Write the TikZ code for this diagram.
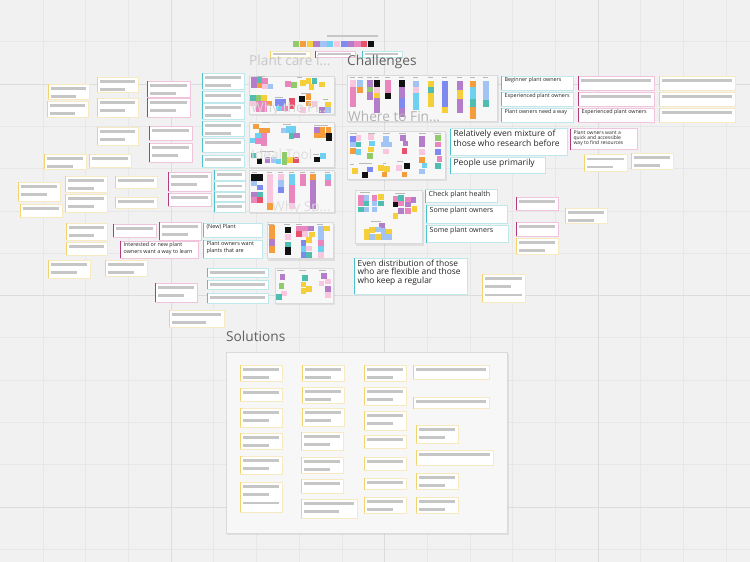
\documentclass[tikz,border=0pt]{standalone}
\usepackage{fontspec}
\setmainfont{Open Sans}
% board colours
\definecolor{bg}{HTML}{F1F1F1}
\definecolor{gridminor}{HTML}{E7E7E7}
\definecolor{gridmajor}{HTML}{DCDCDC}
\definecolor{frameF}{HTML}{F7F7F7}
\definecolor{frameD}{HTML}{DADADA}
\definecolor{barg}{HTML}{C6C6C6}
\definecolor{txt}{HTML}{252525}
\definecolor{tlA}{HTML}{4CC3CC}\definecolor{tlL}{HTML}{BFE8EC}
\definecolor{mgA}{HTML}{B23A7E}\definecolor{mgL}{HTML}{F0C4DA}
\definecolor{ylA}{HTML}{F2D36E}\definecolor{ylL}{HTML}{F7EAC2}
% sticky colours
\definecolor{pk}{HTML}{EA86BE}\definecolor{lpk}{HTML}{F8C6DF}
\definecolor{pu}{HTML}{B47DCA}\definecolor{lb}{HTML}{A2C4F4}
\definecolor{cy}{HTML}{6FD1F1}\definecolor{te}{HTML}{4FBDAF}
\definecolor{ye}{HTML}{F4CF3A}\definecolor{or}{HTML}{F59C3C}
\definecolor{bl}{HTML}{7E8AF0}\definecolor{gr}{HTML}{8FCB6B}
\definecolor{rd}{HTML}{E9506C}\definecolor{bk}{HTML}{111111}
\newcount\crdno
% sticky note with coloured edge and grey placeholder lines
\newcommand{\crd}[6]{%
  \global\advance\crdno by 1
  \node[cardbox, draw=#5L, minimum width=#3pt, minimum height=#4pt] (card\the\crdno) at (#1,#2) {};
  \fill[#5A] (#1,#2) rectangle (#1+1.1,#2+#4);
  \ifnum#6>0 \fill[barg] (#1+3.3,#2+3) rectangle (#1+#3-3.5,#2+5.6);\fi
  \ifnum#6>1 \fill[barg] (#1+3.3,#2+11.3) rectangle (#1+0.68*#3,#2+13.9);\fi
  \ifnum#6>2 \fill[barg] (#1+3.3,#2+19.6) rectangle (#1+#3-3.5,#2+22.2);\fi
}
% sticky note carrying text: x y w h colour size leading text
\newcommand{\tcrd}[8]{%
  \crd{#1}{#2}{#3}{#4}{#5}{0}
  \node[cardtext, font=\fontsize{#6}{#7}\selectfont] (text\the\crdno) at (#1+3.4,#2+1.6) {#8};
}
% frame with a soft drop shadow
\newcommand{\frm}[4]{%
  \fill[black, opacity=0.07] (#1+0.8,#2+1.5) rectangle (#3+1.6,#4+2.2);
  \fill[frameF, draw=frameD, line width=0.4pt] (#1,#2) rectangle (#3,#4);
}
\newcommand{\stk}[3]{\fill[#3] (#1,#2) rectangle (#1+5.6,#2+5.6);}
\newcommand{\stkr}[5]{\fill[#5] (#1,#2) rectangle (#3,#4);}
\newcommand{\col}[4]{\fill[#4] (#1,#2) rectangle (#1+6,#3);}
\newcommand{\hdr}[3]{\fill[gray!55] (#1,#2) rectangle (#1+#3,#2+0.9);}
\begin{document}
\begin{tikzpicture}[x=1pt,y=-1pt,
  cardbox/.style={draw, fill=white, line width=0.5pt, inner sep=0pt, outer sep=0pt, anchor=north west},
  cardtext/.style={anchor=north west, inner sep=0pt, align=left, text=txt},
  title/.style={anchor=base west, inner sep=0pt, font=\fontsize{13.7}{15}\selectfont}]
\useasboundingbox (0,0) rectangle (750,562);
\fill[bg] (0,0) rectangle (750,562);
% grid
\foreach \i in {-8,...,8} {\draw[gridminor, line width=0.5pt] (384.5+\i*42.7,0) -- (384.5+\i*42.7,562);}
\foreach \i in {-4,...,9} {\draw[gridminor, line width=0.5pt] (0,168.5+\i*42.3) -- (750,168.5+\i*42.3);}
\foreach \x in {171,384.5,598} {\draw[gridmajor, line width=0.6pt] (\x,0) -- (\x,562);}
\foreach \y in {83.9,295.4,506.9} {\draw[gridmajor, line width=0.6pt] (0,\y) -- (750,\y);}

% ---------- header: palette and key ----------
\fill[barg] (327,35.3) rectangle (378,37.2);
\foreach \c [count=\i from 0] in {gr,or,ye,pu,lb,cy,lpk,bl,pu,pk,rd,bk}
  {\fill[\c] (293+\i*6.8,40.5) rectangle (293+\i*6.8+6.3,47.2);}
\crd{270}{51}{40}{6.5}{yl}{0}\fill[barg] (273,52.8) rectangle (306,55.2);
\crd{315}{51}{40}{6.5}{mg}{0}\fill[barg] (318,52.8) rectangle (351,55.2);
\crd{362}{51}{40}{6.5}{tl}{0}\fill[barg] (365,52.8) rectangle (398,55.2);

% ---------- left frames ----------
\frm{249}{76}{334}{114}
\stk{251}{77}{pu}\stk{256.6}{77}{te}\stk{262.2}{78}{pk}
\stk{251}{82.6}{pu}\stk{256.6}{82.6}{or}\stk{262.2}{83.6}{lpk}\stk{267.8}{83.6}{lb}
\stk{285}{81}{pk}\stk{291.3}{82}{gr}
\stk{300}{80}{ye}\stk{305.6}{78}{ye}\stk{311.5}{78}{te}\stk{308.5}{84}{ye}\stk{319}{81.5}{ye}
\stk{250}{95}{te}\stk{255.6}{95}{gr}\stk{261.2}{95}{ye}\stk{266.8}{100.6}{or}
\stk{250}{100.6}{lpk}\stkr{255.6}{100.6}{266.6}{112.4}{pk}
\stkr{275}{99}{286}{105.5}{bl}\stk{289}{98}{rd}\stk{289}{103.8}{rd}\stk{282}{105.6}{pk}\stk{276}{105.6}{cy}
\stk{299}{96}{bk}\stk{305.6}{94}{or}\stk{305.6}{100.6}{or}\stk{311.5}{101}{lpk}
\stk{325}{101.5}{ye}\stk{319.4}{107}{pu}\stk{325.2}{107.2}{lb}\stk{300}{107}{lpk}
\hdr{257}{75.5}{8}\hdr{297}{76.5}{5}\hdr{275}{96.5}{8}\hdr{301}{93}{10}\hdr{323}{99.3}{5}

\frm{249}{122}{334}{167}
\stk{253}{123.5}{or}\stk{258.6}{127.6}{or}\stk{264.2}{127.6}{or}\stkr{260.6}{133.2}{266.6}{145.5}{pk}
\stk{255}{132.5}{cy}\stk{250}{137.5}{cy}\stk{255}{138.4}{pk}
\stk{281}{127.5}{lb}\stkr{286}{126}{296}{133}{cy}\stk{288.5}{133}{te}\stk{294}{132.5}{pu}
\stk{314}{127}{pu}\stk{319.8}{127}{or}\stk{325.6}{127}{or}\stkr{314}{132.8}{326}{138.4}{or}\stkr{326}{132.8}{332}{141}{bk}
\stk{251}{152.5}{te}\stk{256.6}{158.2}{bk}\stk{264.8}{157.4}{pu}\stk{270.6}{157.4}{lb}
\stkr{281.6}{151.6}{287.2}{165}{gr}\stk{287.2}{157.4}{ye}\stk{293}{157}{rd}\stk{275.8}{158.6}{cy}
\stk{314}{156.6}{bk}\stk{320}{153}{cy}
\hdr{262}{121.6}{8}\hdr{283}{124}{8}\hdr{314}{124.8}{14}\hdr{260}{150.5}{14}\hdr{313}{154}{6}

\frm{249}{170}{334}{212}
\stkr{251}{173.6}{263}{180.8}{bk}\stk{251}{180.8}{lb}\stk{257}{184.6}{bl}\stk{251}{191.6}{pu}\stk{257}{191.6}{te}\stk{251}{197.4}{pk}\stk{257}{197.4}{rd}
\col{267}{173.6}{203}{lpk}\col{267}{203}{210}{or}
\col{277.5}{173.6}{180}{lpk}\col{277.5}{180}{186.6}{lb}\col{277.5}{186.6}{193}{bl}
\col{288.5}{173.6}{185}{cy}\col{288.5}{185}{203.3}{pk}\col{288.5}{203.3}{209.4}{lpk}
\col{299.5}{173.6}{186}{pk}
\col{310}{173.6}{180}{or}\col{310}{180}{209.4}{pu}
\col{325}{173.6}{180}{cy}\col{325}{180}{186}{pk}
\foreach \x in {252,267,278,289,300,310,325} {\hdr{\x}{171.8}{5}}

\frm{267}{222.5}{333}{258.5}
\col{268.5}{225}{232}{or}\col{268.5}{232}{239}{or}\col{268.5}{239}{246}{pu}\col{268.5}{246}{253}{or}
\col{284.5}{227}{233}{bk}\col{284.5}{234}{240}{lpk}\col{284.5}{241.6}{246.6}{te}\col{284.5}{247.4}{255}{bk}
\stk{296}{225.6}{pk}\stk{302}{225.6}{pk}\stk{308}{225.6}{pu}
\stk{296}{231.4}{rd}\stk{302}{231.4}{lpk}\stk{309}{231.8}{ye}\stk{306}{237}{ye}
\stk{300.5}{240}{bl}\stk{300.5}{246}{cy}\stk{300.5}{252}{bl}\stk{306.2}{252}{te}\stk{306.2}{245.6}{lpk}
\col{317.5}{225.6}{240}{lb}\col{317.5}{240}{246}{pk}\col{317.5}{246}{252}{cy}\col{317.5}{252}{258}{lpk}
\stk{324.4}{225.6}{ye}
\foreach \x in {268,284,296,317} {\hdr{\x}{223.8}{6}}

\frm{275}{268.5}{333}{303}
\stk{279.5}{274}{pu}\stk{278.5}{283}{gr}\stk{281}{290.5}{lpk}\stk{276}{294}{te}
\stk{302}{275}{te}\stk{300.5}{281.5}{ye}\stk{300.5}{288}{ye}\stk{306}{286}{ye}
\stk{321}{273}{pu}\stk{318.5}{280.5}{lpk}\stk{325}{278.5}{lpk}\stk{325}{286}{pu}\stk{325}{292}{lpk}
\hdr{277}{270}{7}\hdr{299}{270}{7}\hdr{319}{270}{7}

% ---------- challenge frames ----------
\frm{347}{75}{497}{121}
\col{350}{80}{86.5}{lpk}\col{350}{86.5}{107}{pk}
\col{356.5}{80}{86.5}{lb}\col{356.5}{86.5}{93}{or}
\col{367}{80}{86.5}{pu}\col{367}{86.5}{92}{gr}\col{367}{92}{100}{pu}
\col{373.5}{80}{86.5}{bk}\col{373.5}{86.5}{92.5}{lpk}\col{373.5}{92.5}{98}{ye}\col{373.5}{98}{113}{pu}
\col{384.5}{80}{93}{pk}\col{384.5}{93}{99}{bk}
\col{398.5}{80}{87}{bk}\col{398.5}{87}{98}{pu}\col{398.5}{98}{108}{bl}\col{398.5}{108}{117}{pu}
\col{413}{81}{86.5}{lb}\col{413}{86.5}{93}{lpk}\col{413}{93}{110}{cy}
\col{428}{81}{86.5}{ye}\col{428}{86.5}{93}{te}\col{428}{93}{107}{ye}
\col{442}{81}{107}{bl}\col{442}{107}{113}{ye}
\col{456.5}{81}{90}{pu}\col{456.5}{90}{99}{ye}\col{456.5}{99}{113}{pu}
\col{470}{81}{86.5}{or}\col{470}{86.5}{99}{cy}\col{470}{99}{107}{te}\col{470}{107}{119}{or}
\col{483}{81}{90}{lb}\col{483}{90}{100}{lb}\col{483}{100}{107}{te}
\foreach \x in {350,358,367,374,385,399,413,428,442,457,470,483} {\hdr{\x}{77.2}{5}}

\frm{347}{131}{445}{179}
\stk{350}{136}{bl}\stk{355.6}{135}{lpk}\stk{350}{141.6}{lb}\stk{355.6}{141.6}{te}\stk{350}{148}{or}\stk{355.6}{149}{cy}
\stk{368}{134}{lpk}\stk{369}{140.6}{cy}\stk{368}{146.6}{ye}\stk{367}{153}{gr}
\stk{383}{136}{lb}\stk{380.5}{141.8}{lb}\stk{386.2}{141.8}{lb}\stk{383}{148.6}{lpk}
\stk{400}{135}{pu}\stk{402.6}{140.8}{pu}\stk{401.6}{148.4}{rd}
\stk{419}{136}{pu}\stk{419}{141.8}{pu}\stk{419}{149}{lpk}
\stk{435}{135}{gr}\stk{435}{141.6}{pk}\stk{435}{149}{bl}\stk{436.6}{156}{pk}
\stk{352}{168}{ye}\stk{362}{172}{bk}\stk{367.4}{166.6}{bl}
\stk{378.4}{165}{ye}\stk{384}{166}{ye}\stk{381.6}{171.6}{or}
\stk{396}{165}{lpk}\stk{404}{163.4}{bk}\stk{401.6}{171.6}{or}
\stk{419}{157}{or}\stk{421.6}{162.6}{cy}\stk{419}{168.6}{lb}\stk{435}{163.4}{te}
\foreach \x in {350,368,383,399,419,434} {\hdr{\x}{132.8}{7}}
\hdr{350}{163.6}{4}\hdr{359}{163}{13}\hdr{383}{162.8}{3}\hdr{397}{161}{6}

\frm{355}{190}{422}{243.5}
\stk{358}{195}{pk}\stk{363.6}{195}{lb}\stk{371.6}{195}{pk}\stk{378.4}{194}{ye}
\stk{358}{200.6}{pk}\stk{363.6}{200.6}{te}\stk{371.6}{200.6}{lb}\stk{378.4}{200.6}{te}
\stk{358}{206.6}{te}\stk{363.6}{206.6}{lb}\stk{371.6}{206.6}{lb}
\stk{392.6}{196}{pk}\stk{398.4}{195}{te}\stk{405}{196.6}{pk}\stk{410.6}{197.4}{pu}
\stk{392.6}{201.8}{bk}\stk{398.4}{200.8}{pk}\stk{405}{201.8}{pu}\stk{411.6}{206}{ye}
\stk{392.6}{213.4}{ye}\stk{398.4}{208.4}{pu}\stk{405}{208}{pk}
\stk{379.4}{222.6}{pu}
\stk{364}{229.2}{ye}\stk{369.4}{227.4}{ye}\stk{375}{226.6}{lb}\stk{380.6}{228.4}{lb}\stk{386}{229.2}{ye}
\stk{364}{234.4}{ye}\stk{369.4}{234}{lb}\stk{375}{234}{ye}\stk{380.6}{234}{lb}\stk{386}{234}{lb}
\hdr{360}{192.4}{10}\hdr{395}{193}{10}\hdr{371}{220.6}{10}

% ---------- solutions frame ----------
\frm{226}{352}{507}{533}
\crd{240}{365}{42}{16}{yl}{2}\crd{240}{388}{42}{13}{yl}{1}\crd{240}{408}{42}{19}{yl}{2}
\crd{240}{433}{42}{16}{yl}{2}\crd{240}{456}{42}{18}{yl}{2}\crd{240}{482}{42}{30}{yl}{3}
\crd{302}{365}{42}{16}{yl}{2}\crd{302}{387}{42}{16}{yl}{2}\crd{302}{408}{42}{18}{yl}{2}
\crd{301}{432}{42}{18}{yl}{2}\crd{301}{457}{42}{16}{yl}{2}\crd{301}{479}{42}{14}{yl}{1}
\crd{301}{499}{56}{19}{yl}{2}
\crd{364}{365}{42}{16}{yl}{2}\crd{364}{387}{42}{18}{yl}{2}\crd{364}{411}{42}{19}{yl}{2}
\crd{364}{435}{42}{13}{yl}{1}\crd{364}{457}{42}{13}{yl}{1}\crd{364}{478}{42}{11.5}{yl}{1}
\crd{364}{497}{42}{16}{yl}{2}
\crd{413}{365}{76}{14}{yl}{1}\crd{413}{397}{76}{11.5}{yl}{1}\crd{416}{425}{42}{18}{yl}{2}
\crd{416}{450}{77}{15}{yl}{1}\crd{416}{473}{42}{16}{yl}{2}\crd{416}{497}{42}{16}{yl}{2}

% ---------- left cluster: yellow ----------
\crd{48}{84}{41}{15}{yl}{2}\crd{47}{101}{41}{16}{yl}{2}
\crd{97}{77}{41}{15}{yl}{2}\crd{97}{98}{41}{19}{yl}{2}\crd{97}{127}{41}{18}{yl}{2}
\crd{44}{154}{42}{15}{yl}{2}\crd{89}{154}{42}{13}{yl}{1}
\crd{18}{182}{42}{19}{yl}{2}\crd{20}{204}{42}{13}{yl}{1}
\crd{65}{176}{42}{16}{yl}{2}\crd{65}{194}{42}{18}{yl}{2}
\crd{115}{176}{42}{12}{yl}{1}\crd{115}{197}{42}{11}{yl}{1}
\crd{66}{223}{41}{17}{yl}{2}\crd{66}{242}{41}{13}{yl}{1}
\crd{48}{260}{42}{18}{yl}{2}\crd{105}{260}{42}{16}{yl}{2}
\crd{169}{310}{55}{17}{yl}{2}

% ---------- left cluster: magenta ----------
\crd{147}{81}{43}{16}{mg}{2}\crd{147}{98}{43}{19}{mg}{2}
\crd{149}{126}{43}{14}{mg}{1}\crd{149}{143}{43}{19}{mg}{2}
\crd{168}{172}{43}{19}{mg}{2}\crd{168}{193}{43}{13}{mg}{1}
\crd{113}{224}{43}{13}{mg}{1}\crd{159}{222}{42}{18}{mg}{2}
\tcrd{120}{241}{78}{17}{mg}{5.4}{6.1}{Interested or new plant\\owners want a way to learn}
\crd{155}{283}{42}{19}{mg}{2}

% ---------- left cluster: teal ----------
\crd{202}{73}{42}{16}{tl}{2}\crd{202}{91}{42}{11.5}{tl}{1}
\crd{202}{103}{42}{16}{tl}{2}\crd{202}{121}{42}{15}{tl}{2}
\crd{202}{138}{42}{14}{tl}{1}\crd{202}{155}{42}{12}{tl}{1}
\crd{214}{170}{31}{10}{tl}{1}\crd{214}{181.5}{31}{9.5}{tl}{1}
\crd{214}{192}{31}{9.5}{tl}{1}\crd{214}{202}{31}{10}{tl}{1}
\tcrd{203}{223}{59}{14}{tl}{5.5}{6.1}{(New) Plant}
\tcrd{203}{240}{59}{18}{tl}{5.5}{6.1}{Plant owners want\\plants that are}
\crd{207}{268}{61}{9}{tl}{1}\crd{207}{280}{61}{9}{tl}{1}\crd{207}{293}{61}{10}{tl}{1}

% ---------- right side notes ----------
\tcrd{501}{76}{72}{14}{tl}{5.4}{6}{Beginner plant owners}
\tcrd{501}{92}{72}{14}{tl}{5.4}{6}{Experienced plant owners}
\tcrd{501}{108}{72}{14}{tl}{5.4}{6}{Plant owners need a way}
\crd{578}{76}{76}{14}{mg}{1}\crd{578}{92}{76}{14}{mg}{1}
\tcrd{578}{108}{76}{14}{mg}{5.4}{6}{Experienced plant owners}
\crd{659}{76}{76}{14}{yl}{1}\crd{659}{92}{76}{14}{yl}{1}\crd{659}{108}{76}{14}{yl}{1}
\tcrd{450}{128.5}{117}{26.5}{tl}{8.5}{8.4}{Relatively even mixture of\\those who research before}
\tcrd{450}{157.5}{95}{16}{tl}{8.5}{8.4}{People use primarily}
\tcrd{570}{128.5}{67}{21}{mg}{5}{5.2}{Plant owners want a\\quick and accessible\\way to find resources}
\crd{584}{154.5}{43}{16.5}{yl}{2}\crd{631}{153}{42}{16}{yl}{2}
\tcrd{425}{189.5}{72}{13}{tl}{7.1}{7}{Check plant health}
\tcrd{426}{205}{81}{18}{tl}{7.1}{7}{Some plant owners}
\tcrd{426}{225}{82}{17.5}{tl}{7.1}{7}{Some plant owners}
\crd{516}{197}{42}{13}{mg}{1}\crd{565}{208}{42}{15}{yl}{2}
\crd{516}{222}{42}{14}{mg}{1}\crd{516}{238}{42}{16}{yl}{2}
\tcrd{354}{258}{113}{36}{tl}{8.4}{8.4}{Even distribution of those\\who are flexible and those\\who keep a regular}
\crd{482}{274}{43}{28}{yl}{3}

% ---------- frame titles ----------
\node[title, text=black!22] (tcare) at (249,65) {Plant care i...};
\node[title, text=black!62] (tchal) at (347,65) {Challenges};
\node[title, text=black!30] (twhere) at (348,121.5) {Where to Fin...};
\node[title, text=black!16] (twhy) at (251,112) {Why the Pl...};
\node[title, text=black!13] (tideal) at (251,159) {Ideal Tool};
\node[title, text=black!13] (tspec) at (272,211) {Why Sp...};
\node[title, text=black!62] (tsol) at (226,341.5) {Solutions};
\end{tikzpicture}
\end{document}
